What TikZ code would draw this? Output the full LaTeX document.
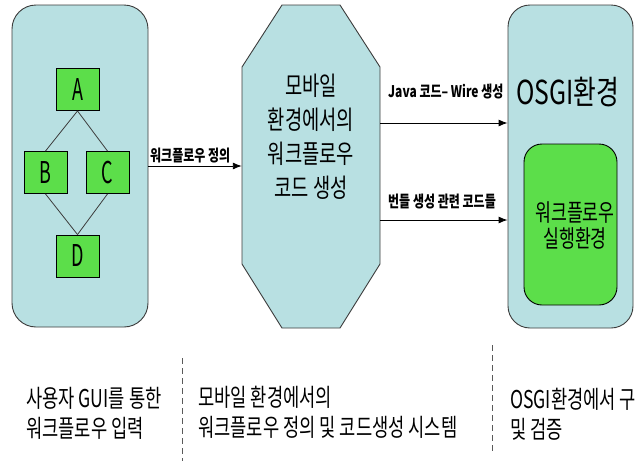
\documentclass[tikz,border=0pt]{standalone}
\usepackage{fontspec}
\newfontfamily\kr[FakeStretch=0.75]{Noto Sans CJK KR}
\newfontfamily\krn[FakeStretch=0.72]{Noto Sans CJK KR}
\newfontfamily\krl[FakeStretch=0.6]{Noto Sans CJK KR}
\usetikzlibrary{arrows.meta}
\definecolor{lblue}{RGB}{184,224,226}
\definecolor{lgreen}{RGB}{92,222,74}
\definecolor{edgec}{RGB}{60,60,60}
\begin{document}
\begin{tikzpicture}[x=1pt,y=-1pt,
 container/.style={draw=edgec, line width=0.9pt, fill=lblue, rounded corners=24pt, inner sep=0pt},
 letterbox/.style={draw=black, line width=0.9pt, fill=lgreen, minimum width=43pt, minimum height=42pt, inner sep=0pt, font=\krl\fontsize{30}{30}\selectfont},
 link/.style={draw=edgec, line width=0.8pt},
 arr/.style={draw=black, line width=0.9pt, -{Latex[length=9pt,width=7pt]}},
 lbl/.style={font=\kr\bfseries\fontsize{16}{18}\selectfont, anchor=base west, inner sep=0pt},
 caption/.style={font=\krn\fontsize{24.5}{30}\selectfont, align=left, anchor=west, inner sep=0pt},
 sep/.style={draw=gray!70!black, line width=0.8pt, dash pattern=on 6pt off 4pt}]
\useasboundingbox (0,0) rectangle (638,461);
\fill[white] (0,0) rectangle (638,461);

% left container with workflow graph
\node[container, minimum width=136pt, minimum height=322pt] (left) at (80,166) {};
\node[letterbox] (A) at (77.5,89.5) {A};
\node[letterbox] (B) at (45.5,172.5) {B};
\node[letterbox] (C) at (107.5,172.5) {C};
\node[letterbox] (D) at (77.5,256) {D};
\draw[link] (A.south) -- (B.north);
\draw[link] (A.south) -- (C.north);
\draw[link] (B.south) -- (D.north);
\draw[link] (C.south) -- (D.north);

% middle octagon
\draw[draw=edgec, line width=0.9pt, fill=lblue]
  (282,5) -- (340,5) -- (380,67) -- (380,264) -- (340,328) -- (282,328) -- (242,264) -- (242,67) -- cycle;
\node[minimum width=138pt, minimum height=323pt, inner sep=0pt] (mid) at (311,166.5) {};
\node[font=\krn\fontsize{26}{34}\selectfont, align=center, inner sep=0pt] (midtext) at (311,137)
  {모바일\\환경에서의\\워크플로우\\코드 생성};

% right container
\node[container, rounded corners=22pt, minimum width=125pt, minimum height=323pt] (right) at (570.5,166.5) {};
\node[font=\kr\fontsize{33}{33}\selectfont, inner sep=0pt] (osgi) at (568,92) {OSGI환경};
\node[draw=black, line width=0.9pt, fill=lgreen, rounded corners=18pt, minimum width=93pt, minimum height=161pt, inner sep=0pt] (inner) at (570.5,224.5) {};
\node[font=\krn\fontsize{24}{26}\selectfont, align=center, inner sep=0pt] (innertext) at (575,225) {워크플로우\\실행환경};

% connectors
\coordinate (y1) at (0,166);
\coordinate (y2) at (0,123);
\coordinate (y3) at (0,220);
\draw[arr] (left.east |- y1) -- (mid.west |- y1);
\draw[arr] (mid.east |- y2) -- (right.west |- y2);
\draw[arr] (mid.east |- y3) -- (right.west |- y3);
\node[lbl] (l1) at (150,161) {워크플로우 정의};
\node[lbl] (l2) at (388,97) {Java 코드– Wire 생성};
\node[lbl] (l3) at (388,207) {번들 생성 관련 코드들};

% separators and captions
\draw[sep] (182,358) -- (182,461);
\draw[sep] (492,345) -- (492,453);
\node[caption] (c1) at (26,413) {사용자 GUI를 통한\\워크플로우 입력};
\node[caption] (c2) at (198,412) {모바일 환경에서의\\워크플로우 정의 및 코드생성 시스템};
\node[caption] (c3) at (510,414) {OSGI환경에서 구\\및 검증};
\end{tikzpicture}
\end{document}
